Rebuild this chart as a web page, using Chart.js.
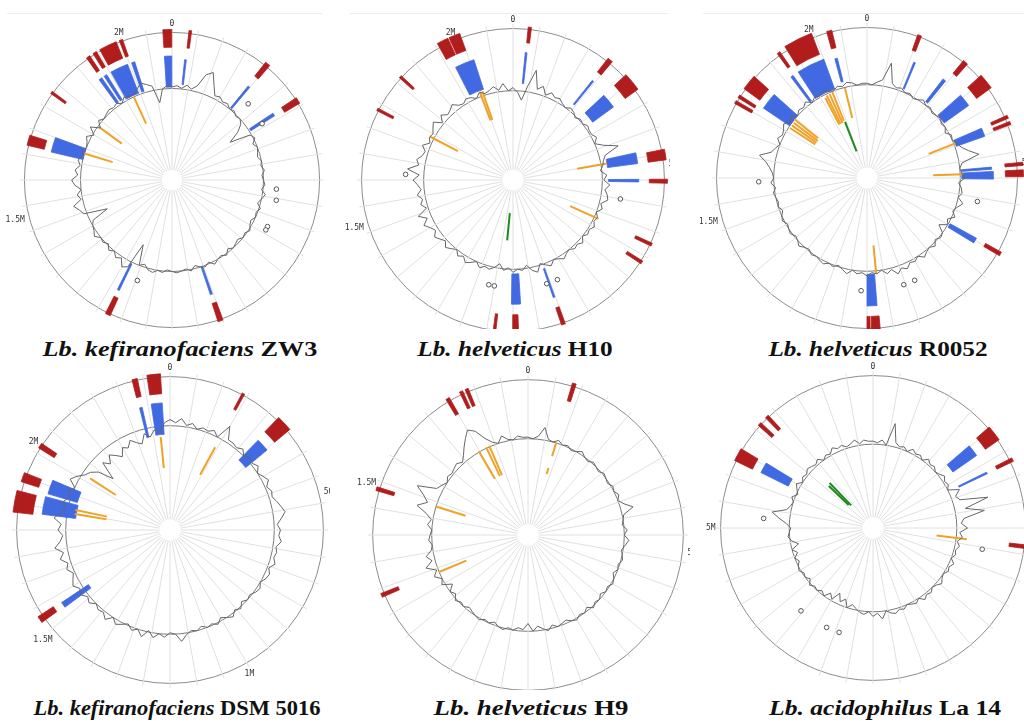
<!DOCTYPE html>
<html>
<head>
<meta charset="utf-8">
<script src="https://cdn.jsdelivr.net/npm/chart.js@4.4.0/dist/chart.umd.min.js"></script>
<style>
  html, body { margin: 0; padding: 0; background: #fff; }
  body { width: 1024px; height: 726px; position: relative; overflow: hidden; }
  .panel { position: absolute; overflow: hidden; }
  .panel canvas { position: absolute; }
  .rule { position: absolute; top: 13px; height: 0; border-top: 1px solid #ececec; }
  .title { position: absolute; font-family: 'Liberation Serif', 'Times New Roman', serif; font-weight: bold;
           font-size: 21px; line-height: 21px; white-space: nowrap; color: #111; }
</style>
</head>
<body>
<div class="rule" style="left:7px;width:315px"></div>
<div class="rule" style="left:350px;width:318px"></div>
<div class="rule" style="left:703px;width:321px"></div>

<div class="title" style="left:180px;top:339px;transform:translateX(-50%) scaleX(1.25)"><i>Lb. kefiranofaciens</i> ZW3</div>
<div class="title" style="left:515px;top:339px;transform:translateX(-50%) scaleX(1.2)"><i>Lb. helveticus</i> H10</div>
<div class="title" style="left:878px;top:339px;transform:translateX(-50%) scaleX(1.2)"><i>Lb. helveticus</i> R0052</div>
<div class="title" style="left:177px;top:698px;transform:translateX(-50%) scaleX(1.07)"><i>Lb. kefiranofaciens</i> DSM 5016</div>
<div class="title" style="left:531px;top:698px;transform:translateX(-50%) scaleX(1.28)"><i>Lb. helveticus</i> H9</div>
<div class="title" style="left:885px;top:698px;transform:translateX(-50%) scaleX(1.22)"><i>Lb. acidophilus</i> La 14</div>

<script>
// genome position ticks (kb) and their labels
const tickKb = [0, 500, 1000, 1500, 2000];
const tickText = ['0', '500k', '1M', '1.5M', '2M'];

// GC line: one value every 3 degrees, in % of the outer ring radius
const zw3Gc = [
    63, 64, 62.5, 65, 63, 66, 75, 78, 70, 64, 65, 63,
    64, 62, 63, 61, 62, 60, 55, 47, 61, 63, 60, 62,
    61, 60, 62, 61, 63, 61, 62, 63, 61, 64, 62, 60,
    63, 61, 62, 60, 61, 63, 61, 62, 60, 61, 62, 60,
    63, 61, 62, 64, 61, 63, 62, 60, 63, 61, 62, 63,
    62, 61, 63, 62, 64, 63, 60, 62, 48, 66, 68, 63,
    65, 62, 64, 61, 63, 62, 65, 63, 62, 60, 48, 64,
    66, 69, 63, 65, 62, 66, 68, 64, 66, 63, 65, 63,
    64, 62, 63, 65, 61, 66, 60, 64, 62, 63, 64, 63,
    64, 62, 65, 63, 64, 66, 69, 67, 65, 53, 62, 64
];
const h10Gc = [
    61, 58, 53, 63, 74, 62, 65, 60, 63, 61, 62, 60,
    59, 61, 60, 58, 60, 59, 61, 60, 60, 62, 59, 64,
    73, 63, 61, 60, 58, 62, 60, 64, 61, 63, 64, 60,
    62, 59, 61, 60, 62, 60, 61, 59, 62, 60, 61, 59,
    60, 62, 60, 59, 62, 60, 58, 63, 61, 57, 60, 59,
    61, 58, 60, 56, 59, 61, 60, 62, 59, 61, 63, 60,
    62, 59, 61, 63, 60, 62, 64, 61, 63, 66, 62, 67,
    60, 63, 61, 64, 61, 63, 66, 62, 70, 63, 65, 62,
    61, 64, 60, 62, 61, 63, 65, 60, 64, 61, 62, 64,
    61, 60, 62, 61, 59, 62, 60, 61, 63, 60, 64, 59
];
const r0052Gc = [
    63, 62, 64, 66, 78, 65, 63, 64, 62, 63, 61, 62,
    64, 62, 63, 61, 62, 63, 61, 62, 60, 63, 62, 64,
    66, 70, 76, 64, 62, 63, 65, 61, 63, 64, 62, 66,
    63, 61, 64, 60, 62, 57, 62, 63, 61, 64, 62, 63,
    65, 62, 64, 63, 66, 64, 67, 63, 65, 62, 64, 63,
    65, 63, 64, 62, 65, 63, 61, 63, 62, 64, 63, 62,
    63, 61, 62, 64, 62, 61, 63, 62, 61, 63, 62, 60,
    62, 61, 62, 63, 61, 64, 62, 63, 65, 68, 73, 66,
    64, 62, 65, 63, 64, 66, 63, 65, 62, 64, 63, 65,
    62, 64, 63, 65, 63, 62, 64, 63, 65, 64, 62, 63
];
const dsmGc = [
    72, 70, 73, 69, 71, 68, 70, 69, 71, 68, 78, 70,
    70, 69, 71, 68, 70, 69, 71, 68, 70, 72, 69, 71,
    70, 72, 74, 76, 73, 70, 72, 71, 73, 70, 71, 70,
    72, 69, 71, 70, 68, 70, 69, 67, 68, 66, 69, 67,
    70, 68, 66, 69, 67, 68, 66, 68, 67, 69, 73, 68,
    67, 70, 68, 71, 67, 72, 68, 70, 67, 69, 71, 68,
    72, 69, 70, 68, 71, 69, 72, 70, 73, 71, 69, 72,
    70, 74, 71, 76, 72, 70, 73, 71, 76, 72, 70, 72,
    69, 71, 68, 73, 70, 66, 64, 60, 50, 62, 58, 63,
    60, 57, 62, 60, 64, 61, 59, 65, 62, 66, 64, 70
];
const h9Gc = [
    63, 62, 64, 70, 63, 62, 64, 62, 63, 61, 62, 64,
    62, 61, 63, 62, 61, 63, 62, 61, 63, 62, 64, 62,
    65, 70, 63, 62, 61, 64, 62, 65, 63, 61, 62, 63,
    61, 62, 60, 62, 63, 61, 62, 60, 62, 61, 63, 60,
    62, 61, 63, 62, 60, 61, 62, 60, 63, 61, 59, 62,
    57, 61, 60, 62, 61, 63, 62, 60, 62, 61, 63, 62,
    61, 60, 62, 61, 63, 60, 62, 58, 64, 62, 66, 63,
    69, 64, 67, 63, 62, 64, 63, 62, 65, 63, 67, 74,
    68, 72, 78, 66, 64, 62, 64, 63, 64, 65, 63, 66,
    70, 74, 78, 75, 68, 64, 62, 66, 63, 62, 64, 63
];
const la14Gc = [
    57, 56, 58, 55, 70, 58, 56, 57, 55, 58, 56, 57,
    55, 58, 56, 57, 55, 56, 58, 56, 57, 55, 62, 58,
    60, 78, 62, 74, 60, 58, 62, 57, 59, 56, 58, 56,
    57, 55, 58, 56, 57, 55, 56, 58, 56, 55, 57, 56,
    58, 55, 57, 56, 55, 57, 56, 58, 57, 55, 60, 56,
    58, 55, 57, 56, 54, 52, 55, 50, 53, 48, 54, 51,
    55, 53, 55, 54, 56, 53, 55, 54, 56, 55, 53, 55,
    52, 55, 50, 54, 56, 55, 54, 57, 62, 67, 58, 56,
    55, 57, 54, 56, 58, 55, 57, 56, 58, 57, 56, 58,
    55, 57, 56, 59, 57, 58, 56, 57, 59, 56, 58, 57
];

// features: [from deg, to deg, inner %, outer %]
const zw3Red = [[356.5, 359.9, 90, 102], [6.5, 7.5, 90, 102], [38.5, 40.5, 90, 102], [56.5, 59, 89, 101],
    [160, 162, 88, 101], [204.5, 206.5, 88, 101], [283.5, 287.5, 89, 101], [305.5, 306.5, 89, 101],
    [325, 326.5, 89, 101], [328, 329.5, 89, 101], [331, 338, 89, 101], [339.3, 340.6, 89, 101]];
const zw3Blue = [[356.5, 359.9, 63, 84], [6, 6.8, 65, 82], [39, 40, 63, 82], [56.5, 58, 63, 82],
    [160.5, 161.5, 62, 82], [205.5, 206.5, 63, 83], [283, 290, 62, 84], [324, 325.5, 64, 84],
    [326.8, 328.2, 64, 84], [330.5, 339, 63, 84], [341, 342.5, 63, 84]];
// radial lines: [deg, inner %, outer %]
const zw3Orange = [[335.3, 42, 62], [306, 42, 61], [286.8, 42, 62]];
const zw3Green = [];
// small circles: [deg, radius %]
const zw3Marks = [[45, 73], [58, 72], [95, 71], [100.5, 72], [116, 72], [118, 72], [198.7, 72]];

const h10Red = [[5.7, 6.9, 91, 101.5], [38, 40, 90.5, 102], [47, 54, 91.5, 102], [78.5, 82.5, 90, 102],
    [89.7, 91.2, 90, 102], [114.4, 115.6, 89, 101], [122, 123.2, 89, 101], [160, 161.5, 89, 101],
    [177.9, 180.1, 89, 103], [186.5, 187.5, 89, 103], [297, 298, 89, 101], [312, 313, 89, 101],
    [331, 335.3, 91, 103], [335.8, 340, 91, 103]];
const h10Blue = [[5.5, 6.3, 64, 84.5], [38.5, 39.3, 64, 84], [47, 54, 65, 82], [77.5, 82.5, 63, 83],
    [89.7, 90.9, 63, 83], [176.5, 180.7, 62, 82], [160.3, 161.1, 62, 82], [333, 342, 63, 83.5]];
const h10Orange = [[339.3, 42, 62], [341, 42, 62], [297.6, 41, 62], [80.1, 43, 63], [114.5, 41.5, 62]];
const h10Green = [[185.5, 22, 40]];
const h10Marks = [[273.2, 71], [100.2, 72], [193.2, 71], [189.6, 71], [161.8, 72], [156.3, 72]];

const r0052Red = [[344.6, 346.6, 89, 101], [324.2, 325.4, 90, 102], [328, 339, 88, 103], [299.4, 300.6, 88, 101],
    [301.9, 303.1, 88, 101], [306, 312, 88, 101], [19.5, 21, 90, 101], [39.4, 41.4, 90, 101],
    [48, 54, 90, 102], [65.9, 67.1, 90, 102], [68.4, 69.6, 90, 102], [84.2, 85.4, 92, 104],
    [87, 89.5, 92, 104], [118.9, 120.4, 90, 102], [175, 178.3, 92, 104], [178.8, 180, 92, 104]];
const r0052Blue = [[22, 22.8, 64, 83], [344.9, 346.1, 66, 82], [323, 324.2, 63, 84], [327, 340, 63, 84],
    [304, 312, 62, 83], [37.5, 39, 64, 83], [48.5, 54.5, 63, 83], [66.5, 70.5, 63, 83],
    [85, 86, 63, 83], [87, 90.5, 63, 84], [118.8, 121.3, 63, 83], [175.5, 180, 64, 85]];
const r0052Orange = [[346.2, 41, 61.5], [332.5, 40, 60], [334, 40, 61], [336, 40, 61], [338, 41, 62],
    [303, 41, 61], [305, 41, 61], [307, 41, 61], [309, 42, 62], [68.6, 44, 63], [87.7, 44, 64], [174.5, 45, 64]];
const r0052Green = [[338.6, 19, 40]];
const r0052Marks = [[267.5, 72], [102, 75], [183, 75], [161.2, 75], [155.3, 75]];

const dsmRed = [[351.5, 356.5, 89, 102], [345.8, 347.8, 89, 101], [27.8, 28.8, 89, 101], [44, 50, 89, 102],
    [302, 304, 89, 101], [288, 291.5, 90, 102], [276.5, 284.5, 90, 103], [234.2, 236.7, 91, 103]];
const dsmBlue = [[351.5, 356.5, 62.5, 83], [346, 347.2, 62, 82], [44.5, 50.5, 64, 82], [286.5, 293, 63, 83],
    [277, 285, 62, 84], [233.7, 236.2, 64, 85]];
const dsmOrange = [[354.3, 40.5, 61], [28.6, 41, 61.5], [302.9, 42, 62], [279.5, 42, 63], [282, 42, 63]];
const dsmGreen = [];
const dsmMarks = [];

const h9Red = [[16.3, 17.7, 90, 102], [328.8, 330.2, 90, 102], [334.4, 335.6, 90, 102], [336.6, 337.8, 90, 102],
    [286.3, 287.7, 90, 102], [246.9, 248.3, 90, 102]];
const h9Blue = [];
const h9Orange = [[329.5, 42, 62.5], [334.5, 42, 62.5], [336.5, 42, 62.5], [17, 53, 62], [17, 41, 45],
    [287.2, 42, 62], [247.4, 43, 62]];
const h9Green = [];
const h9Marks = [];

const la14Red = [[49, 55, 90, 101], [63.2, 64.6, 90, 102], [96.3, 97.7, 90, 103], [315.7, 317.1, 89, 101],
    [311.8, 313.2, 89, 101], [296, 301, 88, 101]];
const la14Blue = [[49.5, 55, 64, 83], [63.8, 64.6, 62.5, 83], [296.3, 301.3, 62, 82]];
const la14Orange = [[96.8, 42, 62]];
const la14Green = [[316, 20.6, 41], [313.5, 22, 40]];
const la14Marks = [[274.7, 72], [101.4, 73], [221.4, 72], [204.6, 72], [198, 72]];

// panel layout: centre, outer radius, inner ring, genome size, visible box
const panels = [
    { cx: 172, cy: 180, R: 148, inner: 62, genomeKb: 2120, box: [0, 0, 323, 329],
      gc: zw3Gc, red: zw3Red, blue: zw3Blue, orange: zw3Orange, green: zw3Green, marks: zw3Marks },
    { cx: 513, cy: 180, R: 151, inner: 59, genomeKb: 2140, box: [345, 0, 325, 329],
      gc: h10Gc, red: h10Red, blue: h10Blue, orange: h10Orange, green: h10Green, marks: h10Marks },
    { cx: 867, cy: 178, R: 150, inner: 62, genomeKb: 2130, box: [700, 0, 324, 329],
      gc: r0052Gc, red: r0052Red, blue: r0052Blue, orange: r0052Orange, green: r0052Green, marks: r0052Marks },
    { cx: 170, cy: 530, R: 153, inner: 68, genomeKb: 2370, box: [0, 362, 330, 335],
      gc: dsmGc, red: dsmRed, blue: dsmBlue, orange: dsmOrange, green: dsmGreen, marks: dsmMarks },
    { cx: 528, cy: 535, R: 155, inner: 62, genomeKb: 1870, box: [345, 362, 345, 328],
      gc: h9Gc, red: h9Red, blue: h9Blue, orange: h9Orange, green: h9Green, marks: h9Marks },
    { cx: 873, cy: 528, R: 152, inner: 55, genomeKb: 2000, box: [705, 362, 319, 322],
      gc: la14Gc, red: la14Red, blue: la14Blue, orange: la14Orange, green: la14Green, marks: la14Marks }
];

const RED = '#b11d1d';
const BLUE = '#4169e1';
const ORANGE = '#f0a228';
const GREEN = '#1f8a1f';
const SIZE = 420;
const degLabels = Array.from({ length: 360 }, (_, i) => i);

function spread(values, step) {
    const out = new Array(360).fill(null);
    values.forEach((v, i) => { out[i * step] = v; });
    return out;
}

function markData(marks) {
    const out = new Array(360).fill(null);
    marks.forEach(m => { out[Math.round(m[0]) % 360] = m[1]; });
    return out;
}

function genomePlugin(p) {
    return {
        id: 'genome',
        beforeDatasetsDraw(chart) {
            const s = chart.scales.r;
            const ctx = chart.ctx;
            const cx = s.xCenter, cy = s.yCenter;
            const ang = deg => s.getIndexAngle(deg) - Math.PI / 2;
            ctx.save();
            // white hub over the spokes
            ctx.fillStyle = '#fff';
            ctx.beginPath();
            ctx.arc(cx, cy, s.getDistanceFromCenterForValue(7), 0, Math.PI * 2);
            ctx.fill();
            // blocks on the ring tracks
            [[p.blue, BLUE], [p.red, RED]].forEach(([items, color]) => {
                ctx.fillStyle = color;
                ctx.strokeStyle = color;
                ctx.lineWidth = 0.8;
                items.forEach(b => {
                    const r0 = s.getDistanceFromCenterForValue(b[2]);
                    const r1 = s.getDistanceFromCenterForValue(b[3]);
                    ctx.beginPath();
                    ctx.arc(cx, cy, r1, ang(b[0]), ang(b[1]));
                    ctx.arc(cx, cy, r0, ang(b[1]), ang(b[0]), true);
                    ctx.closePath();
                    ctx.fill();
                    ctx.stroke();
                });
            });
            // radial lines inside the GC ring
            [[p.orange, ORANGE], [p.green, GREEN]].forEach(([items, color]) => {
                ctx.strokeStyle = color;
                ctx.lineWidth = 2;
                items.forEach(l => {
                    const a = s.getPointPosition(l[0], s.getDistanceFromCenterForValue(l[1]));
                    const b = s.getPointPosition(l[0], s.getDistanceFromCenterForValue(l[2]));
                    ctx.beginPath();
                    ctx.moveTo(a.x, a.y);
                    ctx.lineTo(b.x, b.y);
                    ctx.stroke();
                });
            });
            ctx.restore();
        },
        afterDraw(chart) {
            // genome position labels just outside the ring
            const s = chart.scales.r;
            const ctx = chart.ctx;
            const dist = s.getDistanceFromCenterForValue(100) + 5;
            ctx.save();
            ctx.font = '8px "DejaVu Sans Mono", monospace';
            ctx.fillStyle = '#333';
            tickKb.forEach((kb, i) => {
                if (kb >= p.genomeKb) return;
                const deg = kb / p.genomeKb * 360;
                const pos = s.getPointPosition(deg, dist);
                const a = s.getIndexAngle(deg);
                const sin = Math.sin(a), cos = Math.cos(a);
                ctx.textAlign = Math.abs(sin) < 0.4 ? 'center' : (sin > 0 ? 'left' : 'right');
                ctx.textBaseline = cos > 0.7 ? 'bottom' : (cos < -0.5 ? 'top' : 'middle');
                ctx.fillText(tickText[i], pos.x, pos.y);
            });
            ctx.restore();
        }
    };
}

panels.forEach(p => {
    const box = document.createElement('div');
    box.className = 'panel';
    box.style.left = p.box[0] + 'px';
    box.style.top = p.box[1] + 'px';
    box.style.width = p.box[2] + 'px';
    box.style.height = p.box[3] + 'px';
    const canvas = document.createElement('canvas');
    canvas.width = SIZE;
    canvas.height = SIZE;
    canvas.style.left = (p.cx - SIZE / 2 - p.box[0]) + 'px';
    canvas.style.top = (p.cy - SIZE / 2 - p.box[1]) + 'px';
    box.appendChild(canvas);
    document.body.appendChild(box);

    const reach = Math.round(p.R * 1.03);
    new Chart(canvas, {
        type: 'radar',
        data: {
            labels: degLabels,
            datasets: [
                {
                    data: spread(p.gc, 3),
                    borderColor: '#666',
                    borderWidth: 1,
                    pointRadius: 0,
                    fill: false,
                    spanGaps: true,
                    tension: 0
                },
                {
                    data: markData(p.marks),
                    showLine: false,
                    borderWidth: 0,
                    borderColor: 'transparent',
                    fill: false,
                    pointRadius: 2.3,
                    pointBorderWidth: 1,
                    pointBorderColor: '#555',
                    pointBackgroundColor: '#fff'
                }
            ]
        },
        options: {
            responsive: false,
            animation: false,
            events: [],
            layout: { padding: SIZE / 2 - reach },
            plugins: { legend: { display: false }, tooltip: { enabled: false } },
            scales: {
                r: {
                    min: 0,
                    max: 103,
                    startAngle: 0,
                    ticks: { display: false },
                    afterBuildTicks: scale => {
                        scale.ticks = [{ value: 0 }, { value: p.inner }, { value: 100 }];
                    },
                    grid: {
                        circular: true,
                        color: c => (c.tick && c.tick.value === 100) ? '#8c8c8c' : '#7a7a7a',
                        lineWidth: 1
                    },
                    angleLines: {
                        color: '#e0e0e0',
                        lineWidth: c => c.index % 10 === 0 ? 1 : 0
                    },
                    pointLabels: { display: false }
                }
            }
        },
        plugins: [genomePlugin(p)]
    });
});
</script>
</body>
</html>
